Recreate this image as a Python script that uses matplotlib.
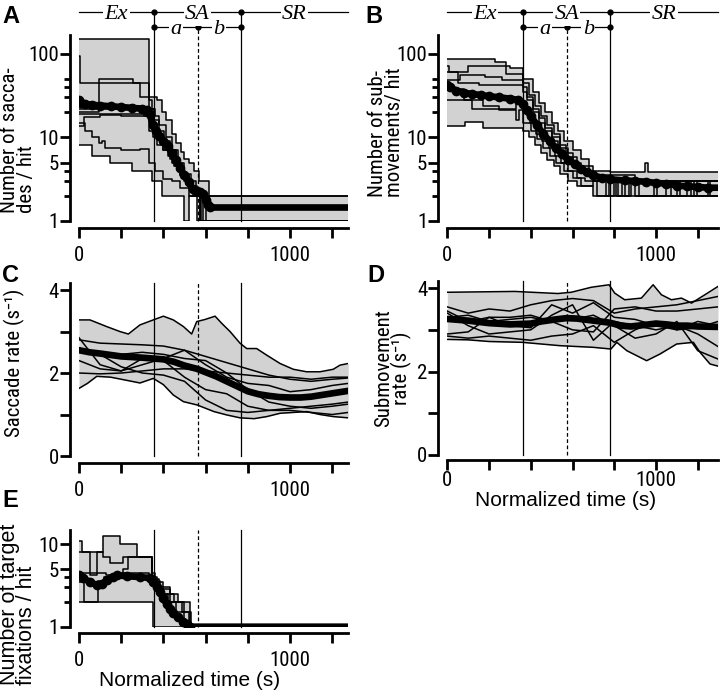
import numpy as np
import matplotlib
matplotlib.use('Agg')
import matplotlib.pyplot as plt
from matplotlib import font_manager
from matplotlib.transforms import blended_transform_factory

names = {f.name for f in font_manager.fontManager.ttflist}
PREF = ['Roboto Condensed', 'Archivo Narrow', 'PT Sans Narrow', 'Liberation Sans Narrow']
NARROW = next((n for n in PREF if n in names), 'Liberation Sans')
SANS = [NARROW, 'Liberation Sans', 'DejaVu Sans']
WIDE = ['Liberation Sans', 'DejaVu Sans']
plt.rcParams['font.family'] = SANS

# ---------------- data ----------------
XT = [0, 200, 400, 600, 800, 1000, 1200]
XT_LABELS = ['0', '', '', '', '', '1000', '']

BOUNDS_ACE = [355, 562, 766]
BOUNDS_BD = [364, 572, 780]

sac_x = [
    [0, 332, 371, 395, 410, 442, 462, 482, 500, 521, 545, 569, 616],
    [0, 4, 330, 345, 360, 380, 410, 440, 470, 500, 530, 555, 600],
    [0, 95, 258, 290, 330, 355, 380, 405, 430, 460, 490, 520, 560, 590],
    [0, 300, 330, 350, 370, 400, 430, 455, 480, 510, 540, 575],
    [0, 30, 60, 95, 110, 125, 200, 290, 330, 360, 400, 440, 480, 520, 560],
    [0, 60, 147, 250, 344, 392, 500, 520, 573],
    [0, 25, 100, 200, 320, 345, 365, 390, 420, 450, 480, 520, 560, 600],
    [0, 280, 310, 340, 360, 400, 440, 470, 500, 530, 560, 580],
]
sac_y = [
    [150, 30, 28, 20, 16, 11, 8.5, 6.7, 5.5, 4.9, 4, 3, 2],
    [95, 45, 28, 22, 18, 14, 10, 7, 5, 3.6, 3, 2, 1],
    [20, 50, 44, 30, 22, 16, 12, 9, 7, 5, 3.5, 2.5, 2, 1],
    [19, 19, 12, 10, 8, 7, 5.5, 4.5, 3.5, 3, 2, 1],
    [14.7, 12, 10, 8.5, 9, 7.5, 7, 7.2, 5, 4, 3.2, 3, 2.5, 2, 1],
    [8, 6, 5, 4, 3, 2, 1, 2, 1],
    [13.5, 17.5, 18.5, 18, 18, 14, 11, 9, 6, 4.5, 3.5, 2.6, 2.2, 2],
    [22, 22, 18, 14, 10, 7, 5, 4, 3, 2.3, 2, 1],
]
sac_mean_x = [0, 10, 30, 60, 100, 150, 200, 250, 300, 320, 335, 350, 365, 380, 400, 420,
              440, 460, 480, 500, 520, 540, 560, 575, 590, 600, 610, 620, 1275]
sac_mean_y = [28, 26, 25, 24.5, 24, 23.5, 23, 22.5, 22, 21, 19, 14, 12, 10.5, 9, 7.8,
              6.5, 5.3, 4.3, 3.5, 2.9, 2.4, 2.3, 2.25, 2.1, 1.8, 1.55, 1.45, 1.45]

sub_x = [
    [0, 228, 280, 364, 412, 440, 470, 500, 530, 560, 600, 640, 680, 700, 780, 946, 960],
    [0, 10, 100, 300, 364, 390, 420, 450, 480, 510, 540, 570, 600, 640, 700, 780, 850, 870, 1100, 1115],
    [0, 60, 180, 260, 364, 380, 410, 440, 470, 500, 530, 560, 600, 650, 700, 760, 775, 990, 1005],
    [0, 80, 170, 250, 330, 364, 395, 425, 455, 485, 515, 545, 580, 620, 660, 820, 835, 1180, 1195],
    [0, 85, 170, 364, 390, 420, 450, 480, 510, 540, 580, 620, 700],
    [0, 120, 250, 330, 345, 364, 400, 430, 460, 490, 520, 560, 600, 640, 700, 715, 800, 810,
     880, 900, 1050, 1070, 1150, 1170, 1250, 1260],
    [0, 50, 150, 364, 380, 410, 440, 470, 500, 540, 580, 620, 680, 900, 920, 1200],
]
sub_y = [
    [86, 80, 57, 50, 35, 26, 20, 15, 12, 9, 7, 5.5, 4.5, 4, 3.9, 5, 3.9],
    [72, 60, 72, 68, 45, 32, 24, 18, 14, 11, 8, 6.5, 5, 4, 3.4, 3, 2, 3, 2, 3],
    [48, 55, 52, 48, 35, 28, 20, 15, 12, 9, 7, 5.5, 4.5, 3.8, 3, 2, 3, 2, 3],
    [38, 28, 24, 22, 25, 20, 15, 11, 9, 7.5, 6, 5, 4, 3.3, 3, 2, 3, 2, 3],
    [13.6, 15.3, 12.8, 12, 10, 8, 6.5, 5.3, 4.5, 3.6, 3, 2.6, 2],
    [28, 22, 21, 16, 21, 15, 12, 9.5, 7.5, 6, 5, 4, 3.3, 2.6, 3, 2, 3, 2, 3, 2, 3, 2, 3, 2, 3, 2],
    [60, 45, 42, 40, 30, 22, 17, 13, 10, 7.5, 5.8, 4.5, 3.5, 3, 2, 2],
]
sub_mean_x = [0, 15, 40, 80, 120, 160, 200, 250, 300, 340, 364, 380, 400, 430, 460, 490, 520,
              550, 580, 610, 640, 670, 700, 740, 780, 850, 900, 950, 1000, 1050, 1100, 1150,
              1200, 1250, 1297]
sub_mean_y = [42, 40, 36, 34, 33, 32, 31, 30, 29, 28, 25, 21, 18, 14, 11, 9, 7.5,
              6.3, 5.4, 4.8, 4.2, 3.8, 3.5, 3.3, 3.15, 3.05, 3.0, 2.95, 2.85, 2.8, 2.65, 2.6,
              2.55, 2.5, 2.5]

rate_grid = [0, 100, 200, 300, 400, 500, 600, 700, 800, 900, 1000, 1100, 1200, 1276]
rateC_top_x = [0, 52, 131, 194, 234, 289, 352, 400, 447, 495, 534, 558, 597, 645, 676, 716,
               763, 795, 842, 890, 953, 1016, 1079, 1142, 1205, 1237, 1276]
rateC_top_y = [3.28, 3.28, 3.12, 3.0, 2.94, 3.16, 3.28, 3.37, 3.28, 3.12, 2.94, 3.24, 3.29,
               3.37, 3.2, 3.0, 2.72, 2.59, 2.59, 2.43, 2.23, 2.09, 2.03, 2.03, 2.09, 2.19, 2.23]
rateC_bot_x = [0, 40, 84, 150, 230, 289, 352, 400, 447, 495, 560, 640, 700, 763, 830, 890,
               953, 1016, 1079, 1142, 1205, 1276]
rateC_bot_y = [1.63, 1.75, 1.92, 1.9, 1.82, 1.76, 1.87, 1.72, 1.47, 1.31, 1.23, 1.07, 0.99,
               0.92, 0.9, 0.95, 1.03, 1.05, 1.07, 1.0, 0.95, 0.92]
rateC_lines = [
    [2.8, 2.72, 2.7, 2.68, 2.65, 2.55, 2.4, 2.25, 2.1, 1.95, 1.85, 1.8, 1.85, 1.88],
    [2.85, 2.2, 2.05, 2.35, 2.3, 1.9, 1.6, 1.5, 1.2, 1.1, 1.15, 1.2, 1.25, 1.3],
    [2.0, 1.98, 2.0, 2.05, 2.1, 2.1, 2.05, 2.0, 1.95, 1.9, 1.9, 1.85, 1.9, 1.9],
    [2.6, 2.45, 2.15, 2.0, 1.95, 1.8, 1.35, 1.1, 1.05, 1.1, 1.1, 1.05, 1.0, 1.05],
    [2.55, 2.5, 2.45, 2.5, 2.45, 2.35, 2.3, 2.0, 1.6, 1.3, 1.2, 1.15, 1.2, 1.25],
    [2.3, 2.1, 2.05, 2.2, 2.35, 2.55, 2.2, 1.9, 1.75, 1.7, 1.55, 1.6, 1.7, 1.75],
]
rateC_mean_x = [0, 50, 100, 200, 300, 350, 400, 450, 500, 560, 600, 650, 700, 750, 800, 850,
                900, 950, 1000, 1050, 1100, 1150, 1200, 1276]
rateC_mean_y = [2.55, 2.5, 2.47, 2.4, 2.37, 2.35, 2.33, 2.27, 2.18, 2.1, 2.02, 1.92, 1.8,
                1.68, 1.56, 1.49, 1.45, 1.42, 1.41, 1.41, 1.43, 1.47, 1.51, 1.57]

rateD_grid = [0, 100, 200, 300, 400, 500, 600, 700, 800, 900, 1000, 1100, 1200, 1297]
rateD_top_x = [0, 323, 530, 594, 690, 775, 802, 850, 930, 986, 1026, 1074, 1122, 1170, 1234, 1297]
rateD_top_y = [3.9, 3.92, 3.87, 3.9, 4.02, 4.08, 3.88, 3.72, 3.76, 4.08, 3.84, 3.72, 3.76,
               3.64, 3.84, 4.04]
rateD_bot_x = [0, 100, 200, 360, 540, 700, 784, 812, 860, 955, 1019, 1099, 1179, 1211, 1259, 1297]
rateD_bot_y = [2.77, 2.76, 2.72, 2.7, 2.62, 2.58, 2.54, 2.7, 2.5, 2.26, 2.42, 2.66, 2.7,
               2.46, 2.18, 2.13]
rateD_lines = [
    [3.55, 3.4, 3.5, 3.45, 3.6, 3.7, 3.75, 3.7, 3.4, 3.5, 3.55, 3.6, 3.7, 3.8],
    [3.45, 3.2, 3.3, 3.3, 3.35, 3.2, 3.0, 2.95, 3.5, 3.55, 3.45, 3.45, 3.5, 3.55],
    [3.4, 3.1, 2.9, 2.95, 3.0, 3.35, 3.6, 2.75, 3.2, 3.1, 3.0, 3.1, 2.9, 2.6],
    [2.85, 2.8, 2.85, 2.8, 2.75, 2.85, 2.9, 3.1, 2.7, 3.0, 3.2, 3.0, 3.2, 3.1],
    [3.3, 3.35, 3.2, 3.25, 3.3, 3.2, 3.25, 3.35, 3.1, 2.8, 2.9, 3.2, 2.5, 2.3],
    [2.9, 2.95, 3.3, 3.1, 3.05, 3.6, 3.4, 3.65, 3.3, 3.25, 3.1, 3.0, 3.05, 3.2],
]
rateD_mean_x = [0, 100, 200, 300, 400, 450, 520, 570, 620, 700, 780, 830, 880, 950, 1000,
                1050, 1100, 1150, 1200, 1297]
rateD_mean_y = [3.26, 3.22, 3.16, 3.13, 3.15, 3.2, 3.25, 3.28, 3.27, 3.22, 3.17, 3.1, 3.08,
                3.12, 3.15, 3.13, 3.1, 3.1, 3.08, 3.07]

fix_x = [
    [0, 15, 115, 194, 273, 344, 360, 384, 432, 526],
    [0, 52, 84, 115, 147, 210, 344, 370, 400, 430, 470, 500, 530],
    [0, 130, 210, 230, 344, 360, 400, 450, 490, 520],
    [0, 349],
    [0, 25, 90, 120, 200, 330, 360, 380, 420, 460, 500],
]
fix_y = [
    [11, 8, 12.5, 10, 7, 4.5, 3.6, 2.9, 2, 1],
    [8, 4.2, 8, 7, 6, 7, 4, 3.5, 3, 2.5, 2, 1.5, 1],
    [4.5, 4.2, 5, 7, 3.5, 3, 2.5, 2, 1.5, 1],
    [2, 1],
    [3.5, 2, 3.6, 4, 4.5, 4, 3.8, 2.5, 2, 1.5, 1],
]
fix_mean_x = [0, 20, 50, 84, 110, 131, 160, 178, 226, 289, 336, 352, 370, 384, 400, 415, 430,
              447, 470, 494, 510, 526, 1275]
fix_mean_y = [4.2, 3.9, 3.5, 3.2, 3.3, 3.7, 4.0, 4.2, 4.1, 4.0, 3.9, 3.5, 3.0, 2.6, 2.2,
              1.9, 1.65, 1.45, 1.3, 1.15, 1.08, 1.0, 1.0]

# ---------------- drawing ----------------
W, H = 720, 694
fig = plt.figure(figsize=(W / 100, H / 100), dpi=100)
GRAY = '#d2d2d2'
PX = 0.72
TICKSIZE = 15


def frame(l, t, r, b):
    return [l / W, 1 - b / H, (r - l) / W, (b - t) / H]


def style(ax, xmax, ylim, log, yticks, ylabels, yminor=None, xout=7, yout=9, xpad=6):
    ax.set_xlim(0, xmax)
    if log:
        ax.set_yscale('log')
    ax.set_ylim(*ylim)
    for s in ('top', 'right'):
        ax.spines[s].set_visible(False)
    ax.spines['left'].set_position(('outward', yout * PX))
    ax.spines['bottom'].set_position(('outward', xout * PX))
    ax.spines['left'].set_bounds(*ylim)
    ax.spines['bottom'].set_bounds(0, xmax)
    for s in ('left', 'bottom'):
        ax.spines[s].set_linewidth(2.0)
    ax.set_xticks(XT)
    ax.set_xticklabels(XT_LABELS)
    ax.set_yticks(yticks)
    ax.set_yticklabels(ylabels)
    ax.yaxis.set_minor_locator(matplotlib.ticker.FixedLocator(yminor or []))
    ax.yaxis.set_minor_formatter(matplotlib.ticker.NullFormatter())
    ax.tick_params(axis='both', which='major', length=7, width=2.0, labelsize=TICKSIZE)
    ax.tick_params(axis='y', which='major', pad=1)
    ax.tick_params(axis='x', which='major', pad=xpad)
    ax.tick_params(axis='y', which='minor', length=4, width=2.0)
    ax.patch.set_visible(False)


def step_panel(ax, xs_list, ys_list, xmax):
    grid = np.unique(np.concatenate([np.array(x, float) for x in xs_list] + [np.array([xmax], float)]))
    vals = []
    for xs, ys in zip(xs_list, ys_list):
        idx = np.searchsorted(np.array(xs, float), grid, side='right') - 1
        vals.append(np.array(ys, float)[idx])
    vals = np.array(vals)
    ax.fill_between(grid, vals.min(0), vals.max(0), step='post', color=GRAY, lw=0, zorder=1)
    for xs, ys in zip(xs_list, ys_list):
        ax.step(list(xs) + [xmax], list(ys) + [ys[-1]], where='post', color='k', lw=1.1, zorder=2)


def smooth_panel(ax, grid_x, lines, top_x, top_y, bot_x, bot_y):
    allx = np.unique(np.concatenate([grid_x, top_x, bot_x]).astype(float))
    curves = [np.interp(allx, grid_x, l) for l in lines]
    curves.append(np.interp(allx, top_x, top_y))
    curves.append(np.interp(allx, bot_x, bot_y))
    curves = np.array(curves)
    ax.fill_between(allx, curves.min(0), curves.max(0), color=GRAY, lw=0, zorder=1)
    for l in lines:
        ax.plot(grid_x, l, color='k', lw=1.1, zorder=2)
    ax.plot(top_x, top_y, color='k', lw=1.1, zorder=2)
    ax.plot(bot_x, bot_y, color='k', lw=1.1, zorder=2)


def mean_line(ax, mx, my, markers=True):
    ax.plot(mx, my, color='k', lw=4.8, solid_capstyle='round', zorder=5)
    if markers:
        ax.plot(mx[:-1], my[:-1], 'o', color='k', ms=6, zorder=5)


def vlines(ax, bounds, top_solid=1.0, top_dash=1.0):
    tr = blended_transform_factory(ax.transData, ax.transAxes)
    for b, top, ls in ((bounds[0], top_solid, '-'), (bounds[1], top_dash, (0, (3, 2))),
                       (bounds[2], top_solid, '-')):
        ax.plot([b, b], [0, top], transform=tr, color='k', lw=0.9, ls=ls, clip_on=False, zorder=3)


def phase_header(ax, bounds, xmax, y1, y2):
    tr = blended_transform_factory(ax.transData, ax.transAxes)
    b1, bm, b2 = bounds
    kw = dict(transform=tr, clip_on=False, color='k', lw=0.9)
    ax.plot([0, xmax], [y1, y1], **kw)
    ax.plot([b1, b2], [y2, y2], **kw)
    ax.plot([b1, b2], [y1, y1], 'o', ms=3.5, transform=tr, clip_on=False, color='k')
    ax.plot([b1, bm, b2], [y2, y2, y2], 'o', ms=3.5, transform=tr, clip_on=False, color='k')
    tk = dict(transform=tr, ha='center', va='center_baseline', fontsize=16, style='italic',
              family=['Liberation Serif', 'DejaVu Serif'],
              bbox=dict(facecolor='white', edgecolor='none', pad=1.0))
    ax.text(b1 / 2, y1, 'Ex', **tk)
    ax.text((b1 + b2) / 2, y1, 'SA', **tk)
    ax.text((b2 + xmax) / 2, y1, 'SR', **tk)
    ax.text((b1 + bm) / 2, y2, 'a', **tk)
    ax.text((bm + b2) / 2, y2, 'b', **tk)


XMAX_ACE = 1275
XMAX_BD = 1297

axA = fig.add_axes(frame(79, 35, 348, 221))
axB = fig.add_axes(frame(447.3, 35, 718, 221))
axC = fig.add_axes(frame(79, 283, 348, 456))
axD = fig.add_axes(frame(447.3, 281, 718, 455))
axE = fig.add_axes(frame(79, 530, 348, 626.7))

LOG_TICKS = [1, 5, 10, 100]
LOG_LABELS = ['1', '5', '10', '100']
LOG_MINOR = [2, 3, 4, 20, 30, 40, 50]

style(axA, XMAX_ACE, (1, 167), True, LOG_TICKS, LOG_LABELS, LOG_MINOR)
style(axB, XMAX_BD, (1, 167), True, LOG_TICKS, LOG_LABELS, LOG_MINOR)
style(axC, XMAX_ACE, (0, 4.17), False, [0, 1, 2, 3, 4], ['0', '', '2', '', '4'])
style(axD, XMAX_BD, (0, 4.17), False, [0, 1, 2, 3, 4], ['0', '', '2', '', '4'], xout=5, xpad=1)
style(axE, XMAX_ACE, (1, 14.9), True, [1, 5, 10], ['1', '5', '10'], [2, 3, 4], xout=6)

step_panel(axA, sac_x, sac_y, XMAX_ACE)
step_panel(axB, sub_x, sub_y, XMAX_BD)
smooth_panel(axC, rate_grid, rateC_lines, rateC_top_x, rateC_top_y, rateC_bot_x, rateC_bot_y)
smooth_panel(axD, rateD_grid, rateD_lines, rateD_top_x, rateD_top_y, rateD_bot_x, rateD_bot_y)
step_panel(axE, fix_x, fix_y, XMAX_ACE)

Y1 = (221 - 12.3) / 186
Y2 = (221 - 27.3) / 186
vlines(axA, BOUNDS_ACE, Y1, Y2)
vlines(axB, BOUNDS_BD, Y1, Y2)
vlines(axC, BOUNDS_ACE)
vlines(axD, BOUNDS_BD)
vlines(axE, BOUNDS_ACE)
phase_header(axA, BOUNDS_ACE, XMAX_ACE, Y1, Y2)
phase_header(axB, BOUNDS_BD, XMAX_BD, Y1, Y2)

mean_line(axA, sac_mean_x, sac_mean_y)
mean_line(axB, sub_mean_x, sub_mean_y)
mean_line(axC, rateC_mean_x, rateC_mean_y, markers=False)
mean_line(axD, rateD_mean_x, rateD_mean_y, markers=False)
mean_line(axE, fix_mean_x, fix_mean_y)

for lx, ly, s in ((2, 23, 'A'), (365, 23, 'B'), (2, 282, 'C'), (367, 282, 'D'), (2, 507, 'E')):
    fig.text(lx / W, 1 - ly / H, s, fontsize=17, fontweight='bold', va='baseline', ha='left',
             family=['Liberation Sans', 'DejaVu Sans'])

YL = dict(rotation=90, fontsize=15, linespacing=0.9)
fig.text(18 / W, 1 - 213 / H, 'Number of sacca-\ndes / hit', ha='center', va='bottom',
         multialignment='left', **YL)
fig.text(386 / W, 1 - 197 / H, 'Number of sub-\nmovements/ hit', ha='center', va='bottom',
         multialignment='left', **YL)
fig.text(14 / W, 1 - 437 / H, 'Saccade rate (s\u207b\u00b9)', ha='center', va='bottom', **YL)
fig.text(393 / W, 1 - 368 / H, 'Submovement\nrate (s\u207b\u00b9)', ha='center', va='center',
         multialignment='center', **YL)
fig.text(18 / W, 1 - 685 / H, 'Number of target\nfixations / hit', ha='center', va='bottom',
         multialignment='left', rotation=90, fontsize=15.5, linespacing=0.74, family=WIDE)

XL = dict(fontsize=15, ha='center', va='center', family=WIDE)
fig.text(190 / W, 1 - 681 / H, 'Normalized time (s)', **XL)
fig.text(566 / W, 1 - 500 / H, 'Normalized time (s)', **XL)

fig.savefig('out.png', dpi=100)
